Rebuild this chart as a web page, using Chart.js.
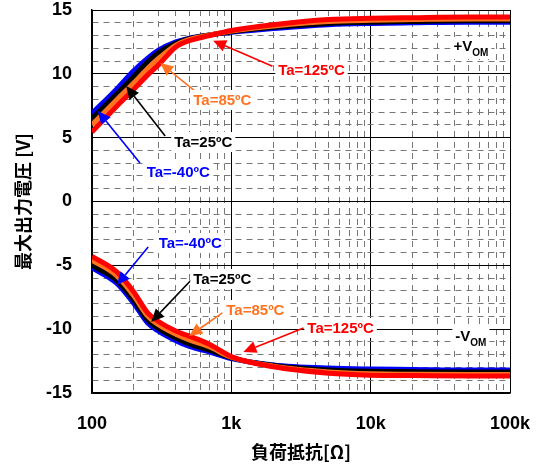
<!DOCTYPE html>
<html>
<head>
<meta charset="utf-8">
<script src="https://cdn.jsdelivr.net/npm/chart.js@4/dist/chart.umd.min.js"></script>
<style>
  html, body { margin: 0; padding: 0; background: #fff; }
  #wrap { width: 536px; height: 466px; }
</style>
</head>
<body>
<div id="wrap"><canvas id="myChart" width="536" height="466"></canvas></div>
<script>
// load resistance [ohm]
const resistance = [100, 150, 200, 250, 300, 400, 500, 700, 1000, 2000, 5000, 10000, 20000, 50000, 100000];

// +VOM
const vomPosM40 = [6.9, 8.8, 10.25, 11.2, 11.85, 12.5, 12.8, 13.05, 13.25, 13.55, 13.85, 13.95, 14.0, 14.05, 14.05];
const vomPos25 = [6.5, 8.4, 9.8, 10.9, 11.65, 12.4, 12.75, 13.05, 13.3, 13.65, 13.95, 14.05, 14.1, 14.15, 14.15];
const vomPos85 = [6.0, 7.95, 9.3, 10.4, 11.2, 12.25, 12.7, 13.05, 13.35, 13.75, 14.1, 14.2, 14.25, 14.3, 14.3];
const vomPos125 = [5.45, 7.45, 8.8, 9.9, 10.7, 12.1, 12.6, 13.0, 13.4, 13.85, 14.25, 14.35, 14.4, 14.45, 14.45];

// -VOM
const vomNegM40 = [-5.2, -6.4, -8.0, -9.5, -10.15, -10.9, -11.35, -11.8, -12.3, -12.8, -13.05, -13.12, -13.15, -13.2, -13.2];
const vomNeg25 = [-5.0, -6.15, -7.75, -9.25, -9.95, -10.7, -11.15, -11.65, -12.25, -12.85, -13.2, -13.3, -13.33, -13.35, -13.35];
const vomNeg85 = [-4.6, -5.8, -7.4, -8.95, -9.65, -10.4, -10.85, -11.4, -12.2, -12.9, -13.35, -13.5, -13.53, -13.55, -13.55];
const vomNeg125 = [-4.3, -5.5, -7.1, -8.7, -9.4, -10.15, -10.55, -11.2, -12.15, -12.95, -13.45, -13.6, -13.63, -13.67, -13.67];

const xTickLabels = { 100: '100', 1000: '1k', 10000: '10k', 100000: '100k' };
const yTickLabels = [-15, -10, -5, 0, 5, 10, 15];

const BLUE = '#0000ff';
const BLACK = '#000000';
const ORANGE = '#ff7320';
const RED = '#ff0000';

// annotation labels: [text, color, labelX, labelY, tailX, tailY, tipX, tipY] (data units)
const notes = [
  ['Ta=125ºC', RED, 3760, 10.3, 1972, 10.6, 740, 12.6],
  ['Ta=85ºC', ORANGE, 862, 7.95, 569, 8.5, 309, 10.85],
  ['Ta=25ºC', BLACK, 629, 4.66, 335, 5.13, 176, 9.04],
  ['Ta=-40ºC', BLUE, 416, 2.31, 221, 3.01, 110, 7.09],
  ['Ta=-40ºC', BLUE, 507, -3.25, 253, -3.56, 151, -6.54],
  ['Ta=25ºC', BLACK, 862, -6.07, 515, -6.15, 266, -9.44],
  ['Ta=85ºC', ORANGE, 1488, -8.5, 862, -8.73, 499, -10.53],
  ['Ta=125ºC', RED, 6085, -9.9, 3297, -9.9, 1220, -11.79],
];
const vomLabels = [['+V', 'OM', 52400, 12.1], ['-V', 'OM', 52400, -10.6]];

function series(label, ys, color, order) {
  return {
    label,
    data: resistance.map((x, i) => ({ x, y: ys[i] })),
    borderColor: color,
    backgroundColor: color,
    borderWidth: 5,
    pointRadius: 0,
    cubicInterpolationMode: 'monotone',
    order,
  };
}

const labelFont = 'bold 15px "Liberation Sans", Arial, sans-serif';

function arrow(ctx, x1, y1, x2, y2, color) {
  const ang = Math.atan2(y2 - y1, x2 - x1);
  const len = 13, hw = 6;
  const bx = x2 - len * Math.cos(ang), by = y2 - len * Math.sin(ang);
  ctx.strokeStyle = color;
  ctx.fillStyle = color;
  ctx.lineWidth = 1.6;
  ctx.beginPath();
  ctx.moveTo(x1, y1);
  ctx.lineTo(bx, by);
  ctx.stroke();
  ctx.beginPath();
  ctx.moveTo(x2, y2);
  ctx.lineTo(bx + hw * Math.sin(ang), by - hw * Math.cos(ang));
  ctx.lineTo(bx - hw * Math.sin(ang), by + hw * Math.cos(ang));
  ctx.closePath();
  ctx.fill();
}

const notesPlugin = {
  id: 'notes',
  afterDatasetsDraw(chart) {
    const { ctx, scales: { x, y } } = chart;
    ctx.save();
    notes.forEach(([text, color, lx, ly, tx, ty, px, py]) => {
      arrow(ctx, x.getPixelForValue(tx), y.getPixelForValue(ty),
        x.getPixelForValue(px), y.getPixelForValue(py), color);
    });
    ctx.font = labelFont;
    ctx.textAlign = 'center';
    ctx.textBaseline = 'middle';
    notes.forEach(([text, color, lx, ly]) => {
      const cx = x.getPixelForValue(lx), cy = y.getPixelForValue(ly);
      const w = ctx.measureText(text).width;
      ctx.fillStyle = '#fff';
      ctx.fillRect(cx - w / 2 - 3, cy - 10, w + 6, 20);
      ctx.fillStyle = color;
      ctx.fillText(text, cx, cy + 1);
    });
    vomLabels.forEach(([main, sub, lx, ly]) => {
      const cx = x.getPixelForValue(lx), cy = y.getPixelForValue(ly);
      ctx.font = labelFont;
      const w1 = ctx.measureText(main).width;
      ctx.font = 'bold 10px "Liberation Sans", Arial, sans-serif';
      const w2 = ctx.measureText(sub).width;
      const left = cx - (w1 + w2) / 2;
      ctx.fillStyle = '#fff';
      ctx.fillRect(left - 3, cy - 10, w1 + w2 + 6, 22);
      ctx.fillStyle = BLACK;
      ctx.textAlign = 'left';
      ctx.font = labelFont;
      ctx.fillText(main, left, cy);
      ctx.font = 'bold 10px "Liberation Sans", Arial, sans-serif';
      ctx.fillText(sub, left + w1, cy + 6);
    });
    ctx.restore();
  },
};

const xTicks = [];
for (let d = 100; d < 100000; d *= 10) {
  for (let m = 1; m < 10; m++) xTicks.push(d * m);
}
xTicks.push(100000);

const isMajorX = (v) => Math.abs(Math.log10(v) - Math.round(Math.log10(v))) < 1e-9;
const isMajorY = (v) => v % 5 === 0;

const tickFont = { family: '"Liberation Sans", Arial, sans-serif', size: 18, weight: 'bold' };
const titleFont = { family: '"Noto Sans CJK JP", "Liberation Sans", sans-serif', size: 18, weight: 'bold' };

function noPad(scale) {
  scale.paddingTop = 0;
  scale.paddingBottom = 0;
  scale.paddingLeft = 0;
  scale.paddingRight = 0;
}

const config = {
  type: 'line',
  data: {
    datasets: [
      series('Ta=125ºC +VOM', vomPos125, RED, 0),
      series('Ta=85ºC +VOM', vomPos85, ORANGE, 1),
      series('Ta=25ºC +VOM', vomPos25, BLACK, 2),
      series('Ta=-40ºC +VOM', vomPosM40, BLUE, 3),
      series('Ta=125ºC -VOM', vomNeg125, RED, 0),
      series('Ta=85ºC -VOM', vomNeg85, ORANGE, 1),
      series('Ta=25ºC -VOM', vomNeg25, BLACK, 2),
      series('Ta=-40ºC -VOM', vomNegM40, BLUE, 3),
    ],
  },
  options: {
    responsive: false,
    animation: false,
    layout: { padding: { top: 10, right: 26, left: 0, bottom: 0 } },
    plugins: {
      legend: { display: false },
      tooltip: { enabled: false },
    },
    scales: {
      x: {
        type: 'logarithmic',
        min: 100,
        max: 100000,
        afterBuildTicks: (scale) => { scale.ticks = xTicks.map((v) => ({ value: v })); },
        afterFit: (scale) => { scale.height = 73; noPad(scale); },
        ticks: {
          autoSkip: false,
          maxRotation: 0,
          padding: 20,
          color: '#000',
          font: tickFont,
          callback: (v) => xTickLabels[v] || '',
        },
        grid: {
          drawTicks: false,
          color: (c) => (c.tick && isMajorX(c.tick.value) ? '#000' : '#777'),
          lineWidth: 1,
        },
        border: {
          color: '#000',
          width: 1.5,
          dash: (c) => (c.tick && !isMajorX(c.tick.value) ? [6, 5] : []),
        },
        title: {
          display: true,
          text: '負荷抵抗[Ω]',
          color: '#000',
          font: titleFont,
          padding: { top: 0, bottom: 3 },
        },
      },
      y: {
        type: 'linear',
        min: -15,
        max: 15,
        afterFit: (scale) => { scale.width = 92; noPad(scale); },
        ticks: {
          stepSize: 1,
          autoSkip: false,
          padding: 20,
          color: '#000',
          font: tickFont,
          callback: (v) => (yTickLabels.includes(v) ? String(v) : ''),
        },
        grid: {
          drawTicks: false,
          color: (c) => (c.tick && isMajorY(c.tick.value) ? '#000' : '#777'),
          lineWidth: 1,
        },
        border: {
          color: '#000',
          width: 1.5,
          dash: (c) => (c.tick && !isMajorY(c.tick.value) ? [6, 5] : []),
        },
        title: {
          display: true,
          text: '最大出力電圧 [V]',
          color: '#000',
          font: titleFont,
          padding: { top: 12, bottom: 0 },
        },
      },
    },
  },
  plugins: [notesPlugin],
};

const ctx = document.getElementById('myChart').getContext('2d');
const myChart = new Chart(ctx, config);
</script>
</body>
</html>
